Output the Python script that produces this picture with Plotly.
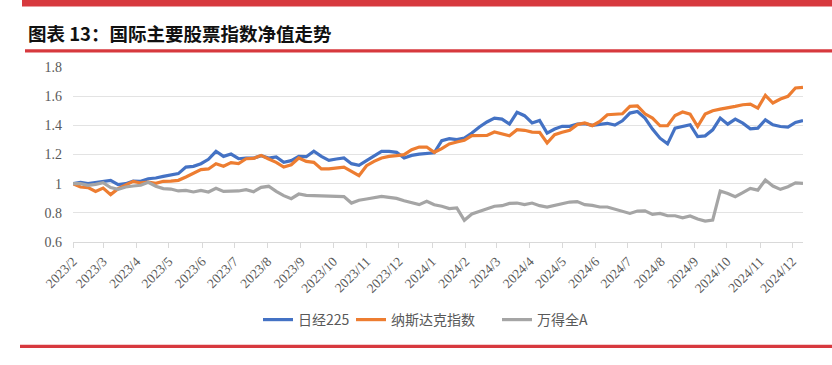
import pandas as pd
import plotly.graph_objects as go

# weekly dates
dates = pd.date_range("2023-02-03", periods=98, freq="7D")

nikkei225 = [
    1.000, 1.009, 1.000, 1.007, 1.016, 1.023, 0.993, 1.000, 1.018, 1.016,
    1.034, 1.039, 1.050, 1.059, 1.069, 1.114, 1.119, 1.137, 1.167, 1.222,
    1.187, 1.203, 1.171, 1.176, 1.175, 1.192, 1.176, 1.183, 1.146, 1.158,
    1.187, 1.185, 1.222, 1.187, 1.160, 1.169, 1.176, 1.137, 1.126, 1.158,
    1.187, 1.222, 1.222, 1.215, 1.176, 1.194, 1.203, 1.210, 1.212, 1.295,
    1.309, 1.302, 1.313, 1.347, 1.389, 1.423, 1.450, 1.443, 1.409, 1.489,
    1.466, 1.416, 1.434, 1.347, 1.375, 1.393, 1.393, 1.409, 1.411, 1.400,
    1.409, 1.414, 1.402, 1.431, 1.484, 1.495, 1.450, 1.374, 1.312, 1.273,
    1.381, 1.392, 1.404, 1.323, 1.328, 1.369, 1.450, 1.408, 1.443, 1.415,
    1.376, 1.381, 1.438, 1.404, 1.392, 1.388, 1.420, 1.433,
]

nasdaq = [
    1.000, 0.977, 0.973, 0.947, 0.970, 0.925, 0.966, 0.989, 1.016, 1.005,
    1.011, 1.002, 1.016, 1.018, 1.023, 1.046, 1.069, 1.096, 1.101, 1.137,
    1.119, 1.144, 1.137, 1.171, 1.173, 1.194, 1.169, 1.146, 1.114, 1.130,
    1.176, 1.153, 1.146, 1.101, 1.101, 1.107, 1.114, 1.085, 1.055, 1.123,
    1.153, 1.176, 1.187, 1.192, 1.199, 1.233, 1.251, 1.251, 1.215, 1.240,
    1.272, 1.286, 1.297, 1.329, 1.329, 1.331, 1.354, 1.341, 1.329, 1.370,
    1.366, 1.354, 1.352, 1.279, 1.336, 1.352, 1.366, 1.405, 1.416, 1.398,
    1.427, 1.473, 1.477, 1.479, 1.530, 1.534, 1.479, 1.450, 1.397, 1.397,
    1.468, 1.491, 1.477, 1.392, 1.477, 1.500, 1.511, 1.518, 1.530, 1.541,
    1.546, 1.518, 1.606, 1.553, 1.580, 1.599, 1.656, 1.661,
]

wind_all_a = [
    1.000, 1.000, 0.989, 0.995, 1.007, 0.973, 0.961, 0.977, 0.984, 0.989,
    1.009, 0.982, 0.966, 0.963, 0.950, 0.954, 0.943, 0.954, 0.943, 0.968,
    0.947, 0.947, 0.950, 0.959, 0.945, 0.975, 0.982, 0.947, 0.918, 0.897,
    0.929, 0.920, 0.918, 0.918, 0.913, 0.911, 0.911, 0.867, 0.886, 0.895,
    0.904, 0.913, 0.906, 0.899, 0.883, 0.872, 0.856, 0.879, 0.855, 0.845,
    0.829, 0.833, 0.749, 0.792, 0.810, 0.826, 0.845, 0.849, 0.865, 0.867,
    0.856, 0.867, 0.849, 0.840, 0.851, 0.867, 0.874, 0.877, 0.856, 0.851,
    0.840, 0.840, 0.825, 0.807, 0.796, 0.812, 0.814, 0.789, 0.796, 0.780,
    0.780, 0.766, 0.778, 0.757, 0.743, 0.750, 0.950, 0.933, 0.911, 0.938,
    0.968, 0.956, 1.025, 0.984, 0.961, 0.979, 1.005, 1.002,
]

series_names = ["日经225", "纳斯达克指数", "万得全A"]
series_colors = ["#4472C4", "#ED7D31", "#A5A5A5"]
legend_widths = [48, 101, None]

x_tick_labels = [
    "2023/2", "2023/3", "2023/4", "2023/5", "2023/6", "2023/7", "2023/8",
    "2023/9", "2023/10", "2023/11", "2023/12", "2024/1", "2024/2", "2024/3",
    "2024/4", "2024/5", "2024/6", "2024/7", "2024/8", "2024/9", "2024/10",
    "2024/11", "2024/12",
]
x_tick_vals = [dates[0] + pd.DateOffset(months=k) for k in range(len(x_tick_labels))]

y_tick_vals = [0.6, 0.8, 1.0, 1.2, 1.4, 1.6, 1.8]
y_tick_text = ["0.6", "0.8", "1", "1.2", "1.4", "1.6", "1.8"]

title_text = "图表 13：国际主要股票指数净值走势"

fig = go.Figure()
for name, vals, col, lw in zip(series_names, [nikkei225, nasdaq, wind_all_a],
                               series_colors, legend_widths):
    tr = go.Scatter(
        x=dates, y=vals, mode="lines", name=name,
        line=dict(color=col, width=3.2),
    )
    if lw is not None:
        tr.legendwidth = lw
    fig.add_trace(tr)

serif = "Liberation Serif, Times New Roman, serif"
cjk = "Noto Sans CJK SC, sans-serif"

# pixel geometry helpers (plot area 73..803 x, 67..242 y)
L, R, T, B = 73, 803, 67, 242
W, H = R - L, B - T


def px(x):
    return (x - L) / W


def py(y):
    return (B - y) / H


red = "#D7393E"
shapes = [
    dict(type="rect", xref="paper", yref="paper", x0=px(22), x1=px(834),
         y0=py(6.5), y1=py(-2), fillcolor=red, line=dict(width=0), layer="above"),
    dict(type="rect", xref="paper", yref="paper", x0=px(25), x1=px(834),
         y0=py(52.5), y1=py(49.3), fillcolor=red, line=dict(width=0)),
    dict(type="rect", xref="paper", yref="paper", x0=px(20), x1=px(834),
         y0=py(348), y1=py(344.8), fillcolor=red, line=dict(width=0)),
]

fig.update_layout(
    width=832, height=365,
    margin=dict(l=L, r=832 - R, t=T, b=365 - B, pad=0, autoexpand=False),
    paper_bgcolor="white", plot_bgcolor="white",
    showlegend=True,
    legend=dict(
        orientation="h", x=px(258), xanchor="left", y=py(320), yanchor="middle",
        font=dict(family=cjk, size=14, color="#595959"),
        bgcolor="rgba(0,0,0,0)", itemwidth=30, tracegroupgap=0,
    ),
    shapes=shapes,
    annotations=[dict(
        text="<b>" + title_text + "</b>", xref="paper", yref="paper",
        x=px(26), y=py(33), xanchor="left", yanchor="middle", showarrow=False,
        font=dict(family=cjk, size=18.5, color="#111111"),
    )],
    xaxis=dict(
        type="date", range=[dates[0], dates[-1]], automargin=False,
        tickvals=x_tick_vals, ticktext=x_tick_labels, tickangle=-45,
        tickfont=dict(family=serif, size=13.5, color="#595959"),
        showgrid=False, showline=True, linecolor="#D9D9D9", linewidth=1.3,
        ticks="outside", ticklen=5, tickcolor="#D9D9D9", tickwidth=1,
        zeroline=False,
    ),
    yaxis=dict(
        range=[0.6, 1.8], tickvals=y_tick_vals, ticktext=y_tick_text,
        automargin=False,
        tickfont=dict(family=serif, size=14, color="#595959"),
        showgrid=True, gridcolor="#E3E3E3", gridwidth=1.3,
        showline=False, zeroline=False, ticks="", ticklabelstandoff=10,
    ),
)

fig.write_html(
    "out.html",
    config={"displayModeBar": False},
    post_script="document.body.style.margin='0';document.body.style.overflow='hidden';",
)
